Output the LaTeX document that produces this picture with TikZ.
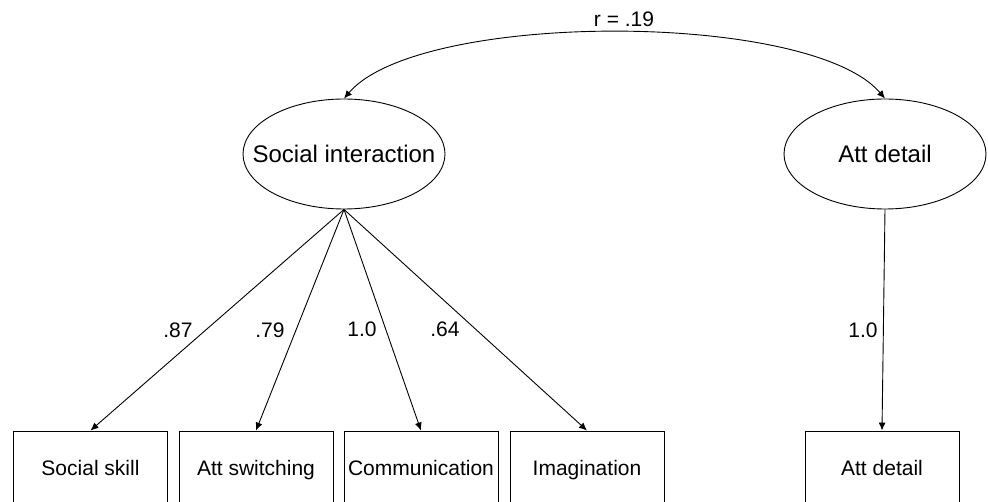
\documentclass[tikz,border=0pt]{standalone}
\usepackage{fontspec}
\setmainfont{Liberation Sans}
\usetikzlibrary{arrows.meta,shapes.geometric}

\tikzset{
  factor/.style={ellipse, draw=black, line width=0.9pt, minimum width=202pt, minimum height=110pt, inner sep=0pt},
  factortext/.style={font=\fontsize{24}{28}\selectfont},
  indicator/.style={rectangle, draw=black, line width=0.9pt, minimum width=154pt, minimum height=74pt, text height=15pt, text depth=0pt, inner sep=0pt, font=\fontsize{21}{25}\selectfont},
  loading/.style={font=\fontsize{21}{25}\selectfont},
  path/.style={arrows = {-Latex[width=7pt, length=8pt]}, line width=0.9pt}
}

\begin{document}
\begin{tikzpicture}[x=1pt,y=-1pt]
  \useasboundingbox (0,0) rectangle (988,502);

  % latent factors
  \node [factor] (si) at (344,154) {};
  \node [factortext] (sitext) at (si) {Social interaction};
  \node [factor] (ad) at (885,154) {};
  \node [factortext] (adtext) at (ad) {Att detail};

  % observed scales
  \node [indicator] (skill) at (90.5,468) {Social skill};
  \node [indicator] (switch) at (256,468) {Att switching};
  \node [indicator] (comm) at (421,468) {Communication};
  \node [indicator] (imag) at (587,468) {Imagination};
  \node [indicator] (detail) at (882,468) {Att detail};

  % correlation
  \draw [arrows = {Latex[width=7pt, length=8pt]-Latex[width=7pt, length=8pt]}, line width=0.9pt]
    (si.north) .. controls +(75,-88) and +(-75,-88) .. (ad.north);
  \node [loading] (corr) at (624,19) {r = .19};

  % loadings
  \draw [path] (si.south) -- (skill.north);
  \draw [path] (si.south) -- (switch.north);
  \draw [path] (si.south) -- (comm.north);
  \draw [path] (si.south) -- (imag.north);
  \draw [path] (ad.south) -- (detail.north);

  \node [loading] (l87) at (178,330) {.87};
  \node [loading] (l79) at (270,330) {.79};
  \node [loading] (l10a) at (362,329) {1.0};
  \node [loading] (l64) at (445,329) {.64};
  \node [loading] (l10b) at (863,330) {1.0};

\end{tikzpicture}
\end{document}
